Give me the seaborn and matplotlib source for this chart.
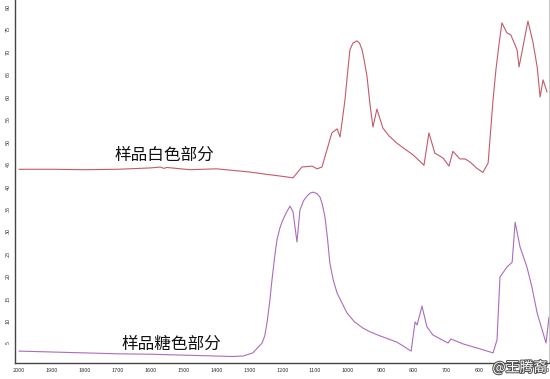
import matplotlib
matplotlib.use("Agg")
import matplotlib.pyplot as plt
import matplotlib.patheffects as pe
import pandas as pd
import seaborn as sns

# wavenumber (cm-1) / transmittance
white_x = [2000, 1900, 1800, 1700, 1600, 1570, 1560, 1550, 1480, 1400, 1300, 1250,
           1207, 1167, 1140, 1109, 1094, 1079, 1049, 1033, 1024, 1009, 1000, 994,
           985, 973, 965, 957, 950, 942, 933, 924, 912, 894, 875, 851, 825, 802,
           769, 754, 736, 711, 693, 681, 660, 644, 629, 608, 590, 574, 559, 550,
           540, 532, 517, 505, 486, 480, 453, 438, 425, 416, 407, 395]
white_y = [43.6, 43.6, 43.5, 43.6, 43.9, 44.1, 43.8, 44.0, 43.5, 43.7, 43.0, 42.5,
           42.1, 41.7, 44.1, 44.3, 43.7, 44.1, 51.7, 52.6, 50.8, 59.1, 66.0, 70.2,
           71.7, 72.2, 71.7, 70.2, 67.6, 64.2, 58.0, 53.0, 57.0, 52.8, 51.0, 49.4,
           48.0, 46.8, 44.5, 51.7, 47.2, 46.1, 44.3, 47.6, 45.9, 45.9, 45.2, 43.8,
           42.9, 45.0, 59.1, 66.0, 72.0, 76.2, 74.0, 73.5, 70.2, 66.4, 76.6, 72.0,
           66.4, 59.7, 63.5, 60.8]

sugar_x = [2000, 1900, 1800, 1700, 1600, 1500, 1400, 1350, 1319, 1289, 1261, 1253,
           1246, 1238, 1231, 1223, 1216, 1207, 1198, 1187, 1176, 1167, 1155, 1146,
           1135, 1125, 1115, 1106, 1095, 1085, 1078, 1070, 1062, 1055, 1045, 1033,
           1003, 980, 954, 930, 903, 851, 808, 796, 790, 775, 760, 742, 696, 687,
           650, 599, 559, 547, 538, 517, 501, 492, 477, 456, 441, 425, 398, 389]
sugar_y = [3.1, 2.9, 2.7, 2.5, 2.4, 2.2, 2.0, 1.9, 2.0, 2.7, 4.9, 6.5,
           9.4, 14.0, 18.9, 24.0, 27.8, 30.5, 32.3, 34.0, 35.4, 34.1, 27.4, 34.5,
           36.6, 37.6, 38.3, 38.5, 38.2, 37.4, 35.8, 33.0, 28.0, 22.7, 19.0, 16.0,
           11.6, 9.6, 8.2, 7.3, 6.5, 5.1, 3.1, 9.6, 8.9, 13.1, 8.5, 6.7, 4.9, 5.8,
           4.7, 3.6, 2.7, 5.6, 19.6, 21.8, 22.9, 31.8, 26.3, 21.8, 17.4, 11.6, 4.9,
           10.7]

label_white = "样品白色部分"
label_sugar = "样品糖色部分"
watermark = "@王腾裔"

sns.set_style("white")
plt.rcParams["font.family"] = ["Noto Sans CJK SC", "DejaVu Sans"]

df_white = pd.DataFrame({"x": white_x, "y": white_y})
df_sugar = pd.DataFrame({"x": sugar_x, "y": sugar_y})

fig = plt.figure(figsize=(5.5, 3.79), dpi=100)
ax = fig.add_axes([15 / 550, 16 / 379, 534 / 550, 363 / 379])

sns.lineplot(data=df_white, x="x", y="y", ax=ax, color="#c45a68", lw=0.8, estimator=None, sort=False)
sns.lineplot(data=df_sugar, x="x", y="y", ax=ax, color="#aa6cbc", lw=0.8, estimator=None, sort=False)

ax.set_xlim(2012, 389)
ax.set_ylim(0.45, 81.3)
ax.set_xticks(range(2000, 399, -100))
ax.set_yticks(range(5, 81, 5))
ax.tick_params(axis="x", labelsize=4, length=2, width=0.5, pad=1.5, colors="#333333")
ax.tick_params(axis="y", labelsize=4, length=2, width=0.5, pad=1, colors="#333333",
               labelrotation=90)
ax.set_xlabel("")
ax.set_ylabel("")

for side in ["left", "bottom"]:
    ax.spines[side].set_color("#444444")
    ax.spines[side].set_linewidth(1.0)
ax.spines["right"].set_color("#bbbbbb")
ax.spines["right"].set_linewidth(0.6)
ax.spines["top"].set_visible(False)

ax.text(1559, 46.8, label_white, fontsize=12, fontweight="medium", ha="center", va="center", color="#111111")
ax.text(1538, 4.6, label_sugar, fontsize=12, fontweight="medium", ha="center", va="center", color="#111111")

fig.text(0.995, 0.03, watermark, fontsize=10, ha="right", va="center", color="white",
         path_effects=[pe.withStroke(linewidth=1.5, foreground="#555555")])

fig.savefig("out.png", dpi=100)
